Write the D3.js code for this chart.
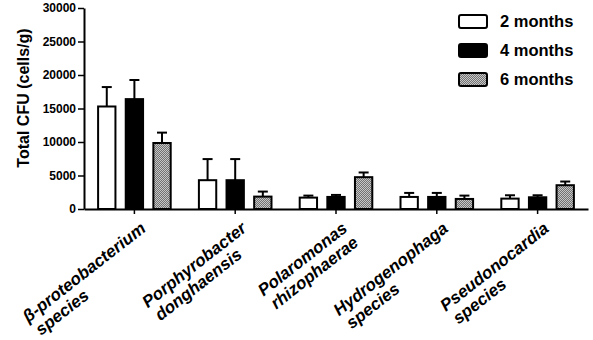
<!DOCTYPE html>
<html><head><meta charset="utf-8">
<script src="https://cdn.jsdelivr.net/npm/d3@7"></script>
<style>
body{margin:0;background:#fff;}
svg{display:block;font-family:"Liberation Sans",Arial,sans-serif;}
</style></head><body>
<svg id="chart" width="593" height="340"></svg>
<script>
const categories = [
  ["β-proteobacterium","species"],
  ["Porphyrobacter","donghaensis"],
  ["Polaromonas","rhizophaerae"],
  ["Hydrogenophaga","species"],
  ["Pseudonocardia","species"]
];
const seriesNames = ["2 months","4 months","6 months"];
const values2m = [15300, 4300, 1700, 1800, 1550];
const errors2m = [2900, 3150, 300, 600, 500];
const values4m = [16400, 4300, 1800, 1800, 1750];
const errors4m = [2850, 3150, 300, 600, 300];
const values6m = [9850, 1850, 4750, 1500, 3550];
const errors6m = [1550, 750, 700, 500, 550];
const yTicks = [0, 5000, 10000, 15000, 20000, 25000, 30000];

const seriesValues = [values2m, values4m, values6m];
const seriesErrors = [errors2m, errors4m, errors6m];
const fills = ["#ffffff", "#000000", "url(#dots)"];

const svg = d3.select("#chart");
const defs = svg.append("defs");
const pat = defs.append("pattern").attr("id","dots").attr("patternUnits","userSpaceOnUse")
  .attr("width",2).attr("height",2);
pat.append("rect").attr("width",2).attr("height",2).attr("fill","#727272");
pat.append("rect").attr("x",0).attr("y",0).attr("width",1).attr("height",1).attr("fill","#c6c6c6");
pat.append("rect").attr("x",1).attr("y",1).attr("width",1).attr("height",1).attr("fill","#c6c6c6");

const catIdx = categories.map((d,i)=>i);
const x0 = d3.scaleBand().domain(catIdx).range([84, 588]).paddingInner(0).paddingOuter(0);
const bw = x0.bandwidth();
const x1 = d3.scaleBand().domain(d3.range(seriesNames.length)).range([bw*0.13, bw*0.87]).paddingInner(0.3);
const y = d3.scaleLinear().domain([0, 30000]).range([209, 8]);

const data = [];
catIdx.forEach(c => seriesNames.forEach((s,si) => data.push({c, si, v: seriesValues[si][c], e: seriesErrors[si][c]})));

const g = svg.append("g");
g.selectAll("line.err").data(data).enter().append("line")
  .attr("x1", d => x0(d.c) + x1(d.si) + x1.bandwidth()/2)
  .attr("x2", d => x0(d.c) + x1(d.si) + x1.bandwidth()/2)
  .attr("y1", d => y(d.v))
  .attr("y2", d => y(d.v + d.e))
  .attr("stroke","#000").attr("stroke-width",2);
g.selectAll("line.cap").data(data).enter().append("line")
  .attr("x1", d => x0(d.c) + x1(d.si) + x1.bandwidth()/2 - 5)
  .attr("x2", d => x0(d.c) + x1(d.si) + x1.bandwidth()/2 + 5)
  .attr("y1", d => y(d.v + d.e))
  .attr("y2", d => y(d.v + d.e))
  .attr("stroke","#000").attr("stroke-width",2);
g.selectAll("rect.bar").data(data).enter().append("rect")
  .attr("x", d => x0(d.c) + x1(d.si) + 1)
  .attr("width", x1.bandwidth() - 2)
  .attr("y", d => y(d.v))
  .attr("height", d => y(0) - y(d.v))
  .attr("fill", d => fills[d.si])
  .attr("stroke","#000").attr("stroke-width",2);

const yAxis = svg.append("g").attr("transform","translate(84,0)")
  .call(d3.axisLeft(y).tickValues(yTicks).tickFormat(d3.format("d")).tickSize(6).tickPadding(2).tickSizeOuter(0));
yAxis.select(".domain").attr("stroke-width",2);
yAxis.selectAll(".tick line").attr("stroke-width",1.5);
yAxis.selectAll(".tick text").attr("font-size",12).attr("font-weight","bold").attr("fill","#000")
  .attr("font-family",'"Liberation Sans",Arial,sans-serif');

const xAxis = svg.append("g").attr("transform","translate(0,209)")
  .call(d3.axisBottom(x0).tickSize(5).tickSizeOuter(0).tickFormat(""));
xAxis.select(".domain").attr("stroke-width",2);
xAxis.selectAll(".tick line").attr("stroke-width",1.5);

catIdx.forEach(c => {
  const lg = svg.append("g")
    .attr("transform", `translate(${x0(c) + bw/2 + 5},221) rotate(-38)`)
    .attr("font-size",17).attr("font-weight","bold").attr("font-style","italic");
  const t1 = lg.append("text").attr("text-anchor","end").attr("x",0).attr("y",12).text(categories[c][0]);
  const len1 = t1.node().getComputedTextLength();
  lg.append("text").attr("text-anchor","start").attr("x",-len1 + 2).attr("y",30).text(categories[c][1]);
});

svg.append("text").attr("transform","translate(29,98) rotate(-90)")
  .attr("text-anchor","middle").attr("font-size",16).attr("font-weight","bold")
  .text("Total CFU (cells/g)");

const leg = svg.append("g");
seriesNames.forEach((s,i) => {
  leg.append("rect").attr("x",459).attr("y",15 + i*29).attr("width",28).attr("height",13).attr("rx",2)
    .attr("fill", fills[i]).attr("stroke","#000").attr("stroke-width",2);
  leg.append("text").attr("x",500).attr("y",27 + i*29).attr("font-size",16.5).attr("font-weight","bold").text(s);
});
</script>
</body></html>
